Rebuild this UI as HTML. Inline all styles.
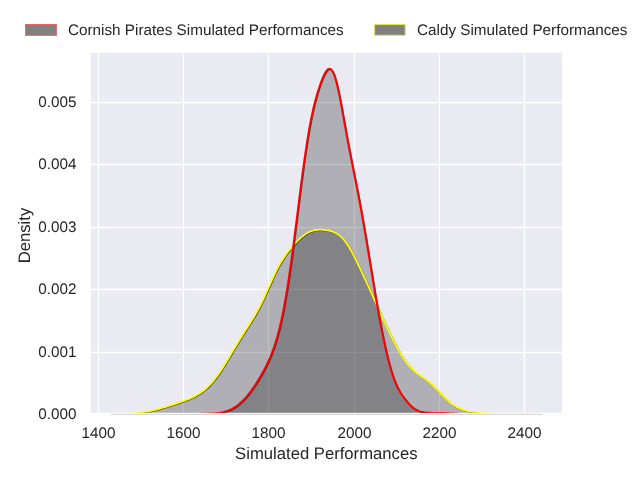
<!DOCTYPE html>
<html lang="en">
<head>
<meta charset="utf-8">
<title>Simulated Performances Density</title>
<style>
html,body{margin:0;padding:0;background:#fff;}
body{width:640px;height:480px;overflow:hidden;}
svg{display:block;}
svg text{font-family:"Liberation Sans",sans-serif;fill:#262626;text-rendering:geometricPrecision;}
.t{font-size:15.28px;}
.l{font-size:16.67px;}
</style>
</head>
<body>
<svg width="640" height="480" viewBox="0 0 640 480">
<rect x="0" y="0" width="640" height="480" fill="#ffffff"/>
<clipPath id="ax"><rect x="90.9" y="52.8" width="471.1" height="360.0"/></clipPath>
<rect x="90.9" y="52.8" width="471.1" height="360.0" fill="#eaeaf2"/>
<g stroke="#ffffff" stroke-width="1.3" clip-path="url(#ax)">
<line x1="98.5" y1="52.8" x2="98.5" y2="412.8"/>
<line x1="183.5" y1="52.8" x2="183.5" y2="412.8"/>
<line x1="268.5" y1="52.8" x2="268.5" y2="412.8"/>
<line x1="354.5" y1="52.8" x2="354.5" y2="412.8"/>
<line x1="439.5" y1="52.8" x2="439.5" y2="412.8"/>
<line x1="524.5" y1="52.8" x2="524.5" y2="412.8"/>
<line x1="90.9" y1="102.5" x2="562.0" y2="102.5"/>
<line x1="90.9" y1="164.5" x2="562.0" y2="164.5"/>
<line x1="90.9" y1="227.5" x2="562.0" y2="227.5"/>
<line x1="90.9" y1="289.5" x2="562.0" y2="289.5"/>
<line x1="90.9" y1="352.5" x2="562.0" y2="352.5"/>
</g>
<g fill="none">
<line x1="111" y1="414.3" x2="542.5" y2="414.3" stroke="#d8d8d8" stroke-width="1.2"/>
<line x1="111" y1="413.3" x2="176" y2="413.3" stroke="#ffffc4" stroke-width="0.7"/>
<line x1="468" y1="413.3" x2="542" y2="413.3" stroke="#ffffc4" stroke-width="0.7"/>
<line x1="189" y1="413.3" x2="460" y2="413.3" stroke="#ffe4e4" stroke-width="0.7"/>
</g>
<g clip-path="url(#ax)">
<path d="M111.0,414.3 L112.0,414.3 L113.0,414.3 L114.0,414.3 L115.0,414.3 L116.0,414.3 L117.0,414.2 L118.0,414.2 L119.0,414.2 L120.0,414.2 L121.0,414.2 L122.0,414.1 L123.0,414.1 L124.0,414.1 L125.0,414.0 L126.0,414.0 L127.0,413.9 L128.0,413.9 L129.0,413.8 L130.0,413.8 L131.0,413.7 L132.0,413.6 L133.0,413.5 L134.0,413.4 L135.0,413.4 L136.0,413.3 L137.0,413.2 L138.0,413.0 L139.0,412.9 L140.0,412.8 L141.0,412.7 L142.0,412.5 L143.0,412.4 L144.0,412.2 L145.0,412.1 L146.0,411.9 L147.0,411.7 L148.0,411.5 L149.0,411.3 L150.0,411.1 L151.0,410.9 L152.0,410.7 L153.0,410.4 L154.0,410.2 L155.0,410.0 L156.0,409.7 L157.0,409.4 L158.0,409.2 L159.0,408.9 L160.0,408.6 L161.0,408.3 L162.0,408.0 L163.0,407.7 L164.0,407.4 L165.0,407.1 L166.0,406.8 L167.0,406.5 L168.0,406.2 L169.0,405.9 L170.0,405.5 L171.0,405.2 L172.0,404.9 L173.0,404.6 L174.0,404.2 L175.0,403.9 L176.0,403.6 L177.0,403.2 L178.0,402.9 L179.0,402.5 L180.0,402.2 L181.0,401.8 L182.0,401.5 L183.0,401.1 L184.0,400.8 L185.0,400.4 L186.0,400.0 L187.0,399.7 L188.0,399.3 L189.0,398.9 L190.0,398.4 L191.0,398.0 L192.0,397.6 L193.0,397.1 L194.0,396.6 L195.0,396.1 L196.0,395.6 L197.0,395.0 L198.0,394.5 L199.0,393.8 L200.0,393.2 L201.0,392.5 L202.0,391.8 L203.0,391.1 L204.0,390.3 L205.0,389.5 L206.0,388.6 L207.0,387.7 L208.0,386.7 L209.0,385.7 L210.0,384.7 L211.0,383.6 L212.0,382.5 L213.0,381.3 L214.0,380.1 L215.0,378.8 L216.0,377.5 L217.0,376.2 L218.0,374.8 L219.0,373.3 L220.0,371.9 L221.0,370.4 L222.0,368.9 L223.0,367.3 L224.0,365.7 L225.0,364.1 L226.0,362.5 L227.0,360.8 L228.0,359.2 L229.0,357.5 L230.0,355.8 L231.0,354.1 L232.0,352.4 L233.0,350.7 L234.0,349.0 L235.0,347.4 L236.0,345.7 L237.0,344.0 L238.0,342.4 L239.0,340.7 L240.0,339.1 L241.0,337.5 L242.0,335.9 L243.0,334.3 L244.0,332.7 L245.0,331.1 L246.0,329.6 L247.0,328.0 L248.0,326.4 L249.0,324.9 L250.0,323.3 L251.0,321.7 L252.0,320.1 L253.0,318.5 L254.0,316.8 L255.0,315.1 L256.0,313.4 L257.0,311.6 L258.0,309.8 L259.0,307.9 L260.0,306.0 L261.0,304.0 L262.0,302.0 L263.0,299.9 L264.0,297.8 L265.0,295.6 L266.0,293.4 L267.0,291.2 L268.0,289.0 L269.0,286.7 L270.0,284.4 L271.0,282.2 L272.0,280.0 L273.0,277.8 L274.0,275.6 L275.0,273.5 L276.0,271.4 L277.0,269.4 L278.0,267.5 L279.0,265.6 L280.0,263.9 L281.0,262.1 L282.0,260.5 L283.0,258.9 L284.0,257.4 L285.0,255.9 L286.0,254.5 L287.0,253.1 L288.0,251.8 L289.0,250.5 L290.0,249.3 L291.0,248.1 L292.0,246.9 L293.0,245.7 L294.0,244.6 L295.0,243.5 L296.0,242.4 L297.0,241.4 L298.0,240.4 L299.0,239.4 L300.0,238.5 L301.0,237.6 L302.0,236.8 L303.0,235.9 L304.0,235.2 L305.0,234.5 L306.0,233.8 L307.0,233.2 L308.0,232.6 L309.0,232.1 L310.0,231.7 L311.0,231.3 L312.0,230.9 L313.0,230.6 L314.0,230.4 L315.0,230.2 L316.0,230.0 L317.0,229.9 L318.0,229.8 L319.0,229.7 L320.0,229.7 L321.0,229.7 L322.0,229.8 L323.0,229.9 L324.0,229.9 L325.0,230.1 L326.0,230.2 L327.0,230.4 L328.0,230.5 L329.0,230.7 L330.0,231.0 L331.0,231.2 L332.0,231.5 L333.0,231.9 L334.0,232.3 L335.0,232.7 L336.0,233.2 L337.0,233.8 L338.0,234.4 L339.0,235.1 L340.0,235.9 L341.0,236.8 L342.0,237.7 L343.0,238.8 L344.0,239.9 L345.0,241.2 L346.0,242.5 L347.0,243.9 L348.0,245.4 L349.0,247.0 L350.0,248.7 L351.0,250.4 L352.0,252.2 L353.0,254.1 L354.0,256.0 L355.0,257.9 L356.0,259.9 L357.0,262.0 L358.0,264.0 L359.0,266.1 L360.0,268.2 L361.0,270.3 L362.0,272.5 L363.0,274.6 L364.0,276.8 L365.0,278.9 L366.0,281.1 L367.0,283.3 L368.0,285.5 L369.0,287.7 L370.0,289.9 L371.0,292.1 L372.0,294.3 L373.0,296.5 L374.0,298.7 L375.0,300.9 L376.0,303.1 L377.0,305.4 L378.0,307.6 L379.0,309.8 L380.0,312.0 L381.0,314.2 L382.0,316.5 L383.0,318.6 L384.0,320.8 L385.0,323.0 L386.0,325.2 L387.0,327.3 L388.0,329.4 L389.0,331.5 L390.0,333.6 L391.0,335.7 L392.0,337.7 L393.0,339.7 L394.0,341.7 L395.0,343.6 L396.0,345.5 L397.0,347.4 L398.0,349.2 L399.0,350.9 L400.0,352.6 L401.0,354.3 L402.0,355.9 L403.0,357.5 L404.0,359.0 L405.0,360.4 L406.0,361.8 L407.0,363.2 L408.0,364.4 L409.0,365.6 L410.0,366.8 L411.0,367.8 L412.0,368.9 L413.0,369.8 L414.0,370.8 L415.0,371.6 L416.0,372.5 L417.0,373.3 L418.0,374.0 L419.0,374.8 L420.0,375.5 L421.0,376.2 L422.0,376.9 L423.0,377.6 L424.0,378.3 L425.0,379.0 L426.0,379.7 L427.0,380.5 L428.0,381.3 L429.0,382.1 L430.0,382.9 L431.0,383.8 L432.0,384.6 L433.0,385.6 L434.0,386.5 L435.0,387.5 L436.0,388.5 L437.0,389.6 L438.0,390.6 L439.0,391.7 L440.0,392.7 L441.0,393.8 L442.0,394.8 L443.0,395.9 L444.0,396.9 L445.0,397.9 L446.0,398.9 L447.0,399.8 L448.0,400.7 L449.0,401.6 L450.0,402.5 L451.0,403.3 L452.0,404.0 L453.0,404.7 L454.0,405.4 L455.0,406.0 L456.0,406.6 L457.0,407.2 L458.0,407.7 L459.0,408.2 L460.0,408.6 L461.0,409.0 L462.0,409.4 L463.0,409.8 L464.0,410.1 L465.0,410.4 L466.0,410.7 L467.0,410.9 L468.0,411.2 L469.0,411.4 L470.0,411.6 L471.0,411.8 L472.0,412.0 L473.0,412.1 L474.0,412.3 L475.0,412.4 L476.0,412.5 L477.0,412.7 L478.0,412.8 L479.0,412.9 L480.0,413.0 L481.0,413.1 L482.0,413.2 L483.0,413.2 L484.0,413.3 L485.0,413.4 L486.0,413.5 L487.0,413.5 L488.0,413.6 L489.0,413.6 L490.0,413.7 L491.0,413.7 L492.0,413.8 L493.0,413.8 L494.0,413.9 L495.0,413.9 L496.0,413.9 L497.0,414.0 L498.0,414.0 L499.0,414.0 L500.0,414.1 L501.0,414.1 L502.0,414.1 L503.0,414.1 L504.0,414.1 L505.0,414.2 L506.0,414.2 L507.0,414.2 L508.0,414.2 L509.0,414.2 L510.0,414.2 L511.0,414.3 L512.0,414.3 L513.0,414.3 L514.0,414.3 L515.0,414.3 L516.0,414.3 L517.0,414.3 L518.0,414.3 L519.0,414.3 L520.0,414.3 L521.0,414.3 L522.0,414.3 L523.0,414.3 L524.0,414.4 L525.0,414.4 L526.0,414.4 L527.0,414.4 L528.0,414.4 L529.0,414.4 L530.0,414.4 L531.0,414.4 L532.0,414.4 L533.0,414.4 L534.0,414.4 L535.0,414.4 L536.0,414.4 L537.0,414.4 L538.0,414.4 L539.0,414.4 L540.0,414.4 L541.0,414.4 L542.0,414.4 L542.0,415 L111.0,415 Z" fill="#000000" fill-opacity="0.25"/>
<path d="M190.0,414.2 L191.0,414.2 L192.0,414.2 L193.0,414.1 L194.0,414.1 L195.0,414.1 L196.0,414.0 L197.0,414.0 L198.0,414.0 L199.0,413.9 L200.0,413.9 L201.0,413.8 L202.0,413.8 L203.0,413.8 L204.0,413.8 L205.0,413.7 L206.0,413.7 L207.0,413.7 L208.0,413.6 L209.0,413.6 L210.0,413.6 L211.0,413.5 L212.0,413.5 L213.0,413.5 L214.0,413.4 L215.0,413.3 L216.0,413.2 L217.0,413.1 L218.0,413.0 L219.0,412.9 L220.0,412.7 L221.0,412.6 L222.0,412.4 L223.0,412.2 L224.0,411.9 L225.0,411.6 L226.0,411.3 L227.0,411.0 L228.0,410.7 L229.0,410.3 L230.0,409.8 L231.0,409.4 L232.0,408.9 L233.0,408.3 L234.0,407.7 L235.0,407.1 L236.0,406.4 L237.0,405.7 L238.0,405.0 L239.0,404.2 L240.0,403.3 L241.0,402.4 L242.0,401.5 L243.0,400.5 L244.0,399.5 L245.0,398.4 L246.0,397.3 L247.0,396.1 L248.0,394.9 L249.0,393.6 L250.0,392.3 L251.0,391.0 L252.0,389.6 L253.0,388.2 L254.0,386.7 L255.0,385.2 L256.0,383.7 L257.0,382.1 L258.0,380.6 L259.0,378.9 L260.0,377.3 L261.0,375.6 L262.0,373.8 L263.0,372.0 L264.0,370.2 L265.0,368.3 L266.0,366.4 L267.0,364.3 L268.0,362.2 L269.0,360.0 L270.0,357.8 L271.0,355.4 L272.0,352.8 L273.0,350.1 L274.0,347.3 L275.0,344.3 L276.0,341.1 L277.0,337.7 L278.0,334.1 L279.0,330.3 L280.0,326.2 L281.0,321.9 L282.0,317.2 L283.0,312.4 L284.0,307.2 L285.0,301.7 L286.0,296.0 L287.0,290.0 L288.0,283.6 L289.0,277.1 L290.0,270.2 L291.0,263.1 L292.0,255.9 L293.0,248.4 L294.0,240.7 L295.0,232.9 L296.0,225.0 L297.0,217.1 L298.0,209.1 L299.0,201.1 L300.0,193.2 L301.0,185.4 L302.0,177.7 L303.0,170.2 L304.0,162.9 L305.0,155.8 L306.0,149.1 L307.0,142.6 L308.0,136.4 L309.0,130.5 L310.0,125.0 L311.0,119.8 L312.0,114.9 L313.0,110.3 L314.0,106.1 L315.0,102.0 L316.0,98.3 L317.0,94.7 L318.0,91.4 L319.0,88.2 L320.0,85.2 L321.0,82.4 L322.0,79.8 L323.0,77.4 L324.0,75.2 L325.0,73.2 L326.0,71.6 L327.0,70.3 L328.0,69.3 L329.0,68.9 L330.0,68.9 L331.0,69.4 L332.0,70.5 L333.0,72.2 L334.0,74.4 L335.0,77.2 L336.0,80.6 L337.0,84.4 L338.0,88.7 L339.0,93.4 L340.0,98.4 L341.0,103.6 L342.0,109.0 L343.0,114.6 L344.0,120.2 L345.0,125.7 L346.0,131.3 L347.0,136.8 L348.0,142.2 L349.0,147.5 L350.0,152.7 L351.0,157.8 L352.0,162.9 L353.0,167.9 L354.0,173.0 L355.0,178.0 L356.0,183.0 L357.0,188.1 L358.0,193.3 L359.0,198.5 L360.0,203.9 L361.0,209.3 L362.0,214.8 L363.0,220.5 L364.0,226.2 L365.0,232.1 L366.0,238.0 L367.0,244.0 L368.0,250.0 L369.0,256.1 L370.0,262.2 L371.0,268.4 L372.0,274.5 L373.0,280.5 L374.0,286.6 L375.0,292.6 L376.0,298.5 L377.0,304.3 L378.0,310.0 L379.0,315.6 L380.0,321.0 L381.0,326.3 L382.0,331.5 L383.0,336.4 L384.0,341.3 L385.0,345.9 L386.0,350.3 L387.0,354.6 L388.0,358.7 L389.0,362.5 L390.0,366.2 L391.0,369.7 L392.0,372.9 L393.0,376.0 L394.0,378.8 L395.0,381.5 L396.0,383.9 L397.0,386.2 L398.0,388.2 L399.0,390.1 L400.0,391.9 L401.0,393.5 L402.0,395.0 L403.0,396.4 L404.0,397.7 L405.0,399.0 L406.0,400.3 L407.0,401.5 L408.0,402.7 L409.0,403.8 L410.0,404.9 L411.0,405.9 L412.0,406.8 L413.0,407.7 L414.0,408.4 L415.0,409.1 L416.0,409.7 L417.0,410.2 L418.0,410.7 L419.0,411.1 L420.0,411.4 L421.0,411.7 L422.0,411.9 L423.0,412.1 L424.0,412.3 L425.0,412.4 L426.0,412.5 L427.0,412.6 L428.0,412.7 L429.0,412.7 L430.0,412.8 L431.0,412.8 L432.0,412.8 L433.0,412.9 L434.0,412.9 L435.0,412.9 L436.0,412.9 L437.0,412.9 L438.0,412.9 L439.0,413.0 L440.0,413.0 L441.0,413.0 L442.0,413.0 L443.0,413.1 L444.0,413.1 L445.0,413.1 L446.0,413.2 L447.0,413.2 L448.0,413.3 L449.0,413.3 L450.0,413.4 L451.0,413.4 L452.0,413.5 L453.0,413.5 L454.0,413.6 L455.0,413.7 L456.0,413.7 L457.0,413.8 L458.0,413.8 L459.0,413.9 L460.0,413.9 L460.0,415 L190.0,415 Z" fill="#000000" fill-opacity="0.25"/>
<g fill="none" stroke-linejoin="round" stroke-linecap="butt">
<path d="M111.0,414.3 L112.0,414.3 L113.0,414.3 L114.0,414.3 L115.0,414.3 L116.0,414.3 L117.0,414.2 L118.0,414.2 L119.0,414.2 L120.0,414.2 L121.0,414.2 L122.0,414.1 L123.0,414.1 L124.0,414.1 L125.0,414.0 L126.0,414.0 L127.0,413.9 L128.0,413.9 L129.0,413.8 L130.0,413.8 L131.0,413.7 L132.0,413.6 L133.0,413.5 L134.0,413.4 L135.0,413.4 L136.0,413.3 L137.0,413.2 L138.0,413.0 L139.0,412.9 L140.0,412.8 L141.0,412.7 L142.0,412.5 L143.0,412.4 L144.0,412.2 L145.0,412.1 L146.0,411.9 L147.0,411.7 L148.0,411.5 L149.0,411.3 L150.0,411.1 L151.0,410.9 L152.0,410.7 L153.0,410.4 L154.0,410.2 L155.0,410.0 L156.0,409.7 L157.0,409.4 L158.0,409.2 L159.0,408.9 L160.0,408.6 L161.0,408.3 L162.0,408.0 L163.0,407.7 L164.0,407.4 L165.0,407.1 L166.0,406.8 L167.0,406.5 L168.0,406.2 L169.0,405.9 L170.0,405.5 L171.0,405.2 L172.0,404.9 L173.0,404.6 L174.0,404.2 L175.0,403.9 L176.0,403.6 L177.0,403.2 L178.0,402.9 L179.0,402.5 L180.0,402.2 L181.0,401.8 L182.0,401.5 L183.0,401.1 L184.0,400.8 L185.0,400.4 L186.0,400.0 L187.0,399.7 L188.0,399.3 L189.0,398.9 L190.0,398.4 L191.0,398.0 L192.0,397.6 L193.0,397.1 L194.0,396.6 L195.0,396.1 L196.0,395.6 L197.0,395.0 L198.0,394.5 L199.0,393.8 L200.0,393.2 L201.0,392.5 L202.0,391.8 L203.0,391.1 L204.0,390.3 L205.0,389.5 L206.0,388.6 L207.0,387.7 L208.0,386.7 L209.0,385.7 L210.0,384.7 L211.0,383.6 L212.0,382.5 L213.0,381.3 L214.0,380.1 L215.0,378.8 L216.0,377.5 L217.0,376.2 L218.0,374.8 L219.0,373.3 L220.0,371.9 L221.0,370.4 L222.0,368.9 L223.0,367.3 L224.0,365.7 L225.0,364.1 L226.0,362.5 L227.0,360.8 L228.0,359.2 L229.0,357.5 L230.0,355.8 L231.0,354.1 L232.0,352.4 L233.0,350.7 L234.0,349.0 L235.0,347.4 L236.0,345.7 L237.0,344.0 L238.0,342.4 L239.0,340.7 L240.0,339.1 L241.0,337.5 L242.0,335.9 L243.0,334.3 L244.0,332.7 L245.0,331.1 L246.0,329.6 L247.0,328.0 L248.0,326.4 L249.0,324.9 L250.0,323.3 L251.0,321.7 L252.0,320.1 L253.0,318.5 L254.0,316.8 L255.0,315.1 L256.0,313.4 L257.0,311.6 L258.0,309.8 L259.0,307.9 L260.0,306.0 L261.0,304.0 L262.0,302.0 L263.0,299.9 L264.0,297.8 L265.0,295.6 L266.0,293.4 L267.0,291.2 L268.0,289.0 L269.0,286.7 L270.0,284.4 L271.0,282.2 L272.0,280.0 L273.0,277.8 L274.0,275.6 L275.0,273.5 L276.0,271.4 L277.0,269.4 L278.0,267.5 L279.0,265.6 L280.0,263.9 L281.0,262.1 L282.0,260.5 L283.0,258.9 L284.0,257.4 L285.0,255.9 L286.0,254.5 L287.0,253.1 L288.0,251.8 L289.0,250.5 L290.0,249.3 L291.0,248.1 L292.0,246.9 L293.0,245.7 L294.0,244.6 L295.0,243.5 L296.0,242.4 L297.0,241.4 L298.0,240.4 L299.0,239.4 L300.0,238.5 L301.0,237.6 L302.0,236.8 L303.0,235.9 L304.0,235.2 L305.0,234.5 L306.0,233.8 L307.0,233.2 L308.0,232.6 L309.0,232.1 L310.0,231.7 L311.0,231.3 L312.0,230.9 L313.0,230.6 L314.0,230.4 L315.0,230.2 L316.0,230.0 L317.0,229.9 L318.0,229.8 L319.0,229.7 L320.0,229.7 L321.0,229.7 L322.0,229.8 L323.0,229.9 L324.0,229.9 L325.0,230.1 L326.0,230.2 L327.0,230.4 L328.0,230.5 L329.0,230.7 L330.0,231.0 L331.0,231.2 L332.0,231.5 L333.0,231.9 L334.0,232.3 L335.0,232.7 L336.0,233.2 L337.0,233.8 L338.0,234.4 L339.0,235.1 L340.0,235.9 L341.0,236.8 L342.0,237.7 L343.0,238.8 L344.0,239.9 L345.0,241.2 L346.0,242.5 L347.0,243.9 L348.0,245.4 L349.0,247.0 L350.0,248.7 L351.0,250.4 L352.0,252.2 L353.0,254.1 L354.0,256.0 L355.0,257.9 L356.0,259.9 L357.0,262.0 L358.0,264.0 L359.0,266.1 L360.0,268.2 L361.0,270.3 L362.0,272.5 L363.0,274.6 L364.0,276.8 L365.0,278.9 L366.0,281.1 L367.0,283.3 L368.0,285.5 L369.0,287.7 L370.0,289.9 L371.0,292.1 L372.0,294.3 L373.0,296.5 L374.0,298.7 L375.0,300.9 L376.0,303.1 L377.0,305.4 L378.0,307.6 L379.0,309.8 L380.0,312.0 L381.0,314.2 L382.0,316.5 L383.0,318.6 L384.0,320.8 L385.0,323.0 L386.0,325.2 L387.0,327.3 L388.0,329.4 L389.0,331.5 L390.0,333.6 L391.0,335.7 L392.0,337.7 L393.0,339.7 L394.0,341.7 L395.0,343.6 L396.0,345.5 L397.0,347.4 L398.0,349.2 L399.0,350.9 L400.0,352.6 L401.0,354.3 L402.0,355.9 L403.0,357.5 L404.0,359.0 L405.0,360.4 L406.0,361.8 L407.0,363.2 L408.0,364.4 L409.0,365.6 L410.0,366.8 L411.0,367.8 L412.0,368.9 L413.0,369.8 L414.0,370.8 L415.0,371.6 L416.0,372.5 L417.0,373.3 L418.0,374.0 L419.0,374.8 L420.0,375.5 L421.0,376.2 L422.0,376.9 L423.0,377.6 L424.0,378.3 L425.0,379.0 L426.0,379.7 L427.0,380.5 L428.0,381.3 L429.0,382.1 L430.0,382.9 L431.0,383.8 L432.0,384.6 L433.0,385.6 L434.0,386.5 L435.0,387.5 L436.0,388.5 L437.0,389.6 L438.0,390.6 L439.0,391.7 L440.0,392.7 L441.0,393.8 L442.0,394.8 L443.0,395.9 L444.0,396.9 L445.0,397.9 L446.0,398.9 L447.0,399.8 L448.0,400.7 L449.0,401.6 L450.0,402.5 L451.0,403.3 L452.0,404.0 L453.0,404.7 L454.0,405.4 L455.0,406.0 L456.0,406.6 L457.0,407.2 L458.0,407.7 L459.0,408.2 L460.0,408.6 L461.0,409.0 L462.0,409.4 L463.0,409.8 L464.0,410.1 L465.0,410.4 L466.0,410.7 L467.0,410.9 L468.0,411.2 L469.0,411.4 L470.0,411.6 L471.0,411.8 L472.0,412.0 L473.0,412.1 L474.0,412.3 L475.0,412.4 L476.0,412.5 L477.0,412.7 L478.0,412.8 L479.0,412.9 L480.0,413.0 L481.0,413.1 L482.0,413.2 L483.0,413.2 L484.0,413.3 L485.0,413.4 L486.0,413.5 L487.0,413.5 L488.0,413.6 L489.0,413.6 L490.0,413.7 L491.0,413.7 L492.0,413.8 L493.0,413.8 L494.0,413.9 L495.0,413.9 L496.0,413.9 L497.0,414.0 L498.0,414.0 L499.0,414.0 L500.0,414.1 L501.0,414.1 L502.0,414.1 L503.0,414.1 L504.0,414.1 L505.0,414.2 L506.0,414.2 L507.0,414.2 L508.0,414.2 L509.0,414.2 L510.0,414.2 L511.0,414.3 L512.0,414.3 L513.0,414.3 L514.0,414.3 L515.0,414.3 L516.0,414.3 L517.0,414.3 L518.0,414.3 L519.0,414.3 L520.0,414.3 L521.0,414.3 L522.0,414.3 L523.0,414.3 L524.0,414.4 L525.0,414.4 L526.0,414.4 L527.0,414.4 L528.0,414.4 L529.0,414.4 L530.0,414.4 L531.0,414.4 L532.0,414.4 L533.0,414.4 L534.0,414.4 L535.0,414.4 L536.0,414.4 L537.0,414.4 L538.0,414.4 L539.0,414.4 L540.0,414.4 L541.0,414.4 L542.0,414.4" stroke="#000000" stroke-opacity="0.6" stroke-width="1.4" transform="translate(0.7,0.7)"/>
<path d="M111.0,414.3 L112.0,414.3 L113.0,414.3 L114.0,414.3 L115.0,414.3 L116.0,414.3 L117.0,414.2 L118.0,414.2 L119.0,414.2 L120.0,414.2 L121.0,414.2 L122.0,414.1 L123.0,414.1 L124.0,414.1 L125.0,414.0 L126.0,414.0 L127.0,413.9 L128.0,413.9 L129.0,413.8 L130.0,413.8 L131.0,413.7 L132.0,413.6 L133.0,413.5 L134.0,413.4 L135.0,413.4 L136.0,413.3 L137.0,413.2 L138.0,413.0 L139.0,412.9 L140.0,412.8 L141.0,412.7 L142.0,412.5 L143.0,412.4 L144.0,412.2 L145.0,412.1 L146.0,411.9 L147.0,411.7 L148.0,411.5 L149.0,411.3 L150.0,411.1 L151.0,410.9 L152.0,410.7 L153.0,410.4 L154.0,410.2 L155.0,410.0 L156.0,409.7 L157.0,409.4 L158.0,409.2 L159.0,408.9 L160.0,408.6 L161.0,408.3 L162.0,408.0 L163.0,407.7 L164.0,407.4 L165.0,407.1 L166.0,406.8 L167.0,406.5 L168.0,406.2 L169.0,405.9 L170.0,405.5 L171.0,405.2 L172.0,404.9 L173.0,404.6 L174.0,404.2 L175.0,403.9 L176.0,403.6 L177.0,403.2 L178.0,402.9 L179.0,402.5 L180.0,402.2 L181.0,401.8 L182.0,401.5 L183.0,401.1 L184.0,400.8 L185.0,400.4 L186.0,400.0 L187.0,399.7 L188.0,399.3 L189.0,398.9 L190.0,398.4 L191.0,398.0 L192.0,397.6 L193.0,397.1 L194.0,396.6 L195.0,396.1 L196.0,395.6 L197.0,395.0 L198.0,394.5 L199.0,393.8 L200.0,393.2 L201.0,392.5 L202.0,391.8 L203.0,391.1 L204.0,390.3 L205.0,389.5 L206.0,388.6 L207.0,387.7 L208.0,386.7 L209.0,385.7 L210.0,384.7 L211.0,383.6 L212.0,382.5 L213.0,381.3 L214.0,380.1 L215.0,378.8 L216.0,377.5 L217.0,376.2 L218.0,374.8 L219.0,373.3 L220.0,371.9 L221.0,370.4 L222.0,368.9 L223.0,367.3 L224.0,365.7 L225.0,364.1 L226.0,362.5 L227.0,360.8 L228.0,359.2 L229.0,357.5 L230.0,355.8 L231.0,354.1 L232.0,352.4 L233.0,350.7 L234.0,349.0 L235.0,347.4 L236.0,345.7 L237.0,344.0 L238.0,342.4 L239.0,340.7 L240.0,339.1 L241.0,337.5 L242.0,335.9 L243.0,334.3 L244.0,332.7 L245.0,331.1 L246.0,329.6 L247.0,328.0 L248.0,326.4 L249.0,324.9 L250.0,323.3 L251.0,321.7 L252.0,320.1 L253.0,318.5 L254.0,316.8 L255.0,315.1 L256.0,313.4 L257.0,311.6 L258.0,309.8 L259.0,307.9 L260.0,306.0 L261.0,304.0 L262.0,302.0 L263.0,299.9 L264.0,297.8 L265.0,295.6 L266.0,293.4 L267.0,291.2 L268.0,289.0 L269.0,286.7 L270.0,284.4 L271.0,282.2 L272.0,280.0 L273.0,277.8 L274.0,275.6 L275.0,273.5 L276.0,271.4 L277.0,269.4 L278.0,267.5 L279.0,265.6 L280.0,263.9 L281.0,262.1 L282.0,260.5 L283.0,258.9 L284.0,257.4 L285.0,255.9 L286.0,254.5 L287.0,253.1 L288.0,251.8 L289.0,250.5 L290.0,249.3 L291.0,248.1 L292.0,246.9 L293.0,245.7 L294.0,244.6 L295.0,243.5 L296.0,242.4 L297.0,241.4 L298.0,240.4 L299.0,239.4 L300.0,238.5 L301.0,237.6 L302.0,236.8 L303.0,235.9 L304.0,235.2 L305.0,234.5 L306.0,233.8 L307.0,233.2 L308.0,232.6 L309.0,232.1 L310.0,231.7 L311.0,231.3 L312.0,230.9 L313.0,230.6 L314.0,230.4 L315.0,230.2 L316.0,230.0 L317.0,229.9 L318.0,229.8 L319.0,229.7 L320.0,229.7 L321.0,229.7 L322.0,229.8 L323.0,229.9 L324.0,229.9 L325.0,230.1 L326.0,230.2 L327.0,230.4 L328.0,230.5 L329.0,230.7 L330.0,231.0 L331.0,231.2 L332.0,231.5 L333.0,231.9 L334.0,232.3 L335.0,232.7 L336.0,233.2 L337.0,233.8 L338.0,234.4 L339.0,235.1 L340.0,235.9 L341.0,236.8 L342.0,237.7 L343.0,238.8 L344.0,239.9 L345.0,241.2 L346.0,242.5 L347.0,243.9 L348.0,245.4 L349.0,247.0 L350.0,248.7 L351.0,250.4 L352.0,252.2 L353.0,254.1 L354.0,256.0 L355.0,257.9 L356.0,259.9 L357.0,262.0 L358.0,264.0 L359.0,266.1 L360.0,268.2 L361.0,270.3 L362.0,272.5 L363.0,274.6 L364.0,276.8 L365.0,278.9 L366.0,281.1 L367.0,283.3 L368.0,285.5 L369.0,287.7 L370.0,289.9 L371.0,292.1 L372.0,294.3 L373.0,296.5 L374.0,298.7 L375.0,300.9 L376.0,303.1 L377.0,305.4 L378.0,307.6 L379.0,309.8 L380.0,312.0 L381.0,314.2 L382.0,316.5 L383.0,318.6 L384.0,320.8 L385.0,323.0 L386.0,325.2 L387.0,327.3 L388.0,329.4 L389.0,331.5 L390.0,333.6 L391.0,335.7 L392.0,337.7 L393.0,339.7 L394.0,341.7 L395.0,343.6 L396.0,345.5 L397.0,347.4 L398.0,349.2 L399.0,350.9 L400.0,352.6 L401.0,354.3 L402.0,355.9 L403.0,357.5 L404.0,359.0 L405.0,360.4 L406.0,361.8 L407.0,363.2 L408.0,364.4 L409.0,365.6 L410.0,366.8 L411.0,367.8 L412.0,368.9 L413.0,369.8 L414.0,370.8 L415.0,371.6 L416.0,372.5 L417.0,373.3 L418.0,374.0 L419.0,374.8 L420.0,375.5 L421.0,376.2 L422.0,376.9 L423.0,377.6 L424.0,378.3 L425.0,379.0 L426.0,379.7 L427.0,380.5 L428.0,381.3 L429.0,382.1 L430.0,382.9 L431.0,383.8 L432.0,384.6 L433.0,385.6 L434.0,386.5 L435.0,387.5 L436.0,388.5 L437.0,389.6 L438.0,390.6 L439.0,391.7 L440.0,392.7 L441.0,393.8 L442.0,394.8 L443.0,395.9 L444.0,396.9 L445.0,397.9 L446.0,398.9 L447.0,399.8 L448.0,400.7 L449.0,401.6 L450.0,402.5 L451.0,403.3 L452.0,404.0 L453.0,404.7 L454.0,405.4 L455.0,406.0 L456.0,406.6 L457.0,407.2 L458.0,407.7 L459.0,408.2 L460.0,408.6 L461.0,409.0 L462.0,409.4 L463.0,409.8 L464.0,410.1 L465.0,410.4 L466.0,410.7 L467.0,410.9 L468.0,411.2 L469.0,411.4 L470.0,411.6 L471.0,411.8 L472.0,412.0 L473.0,412.1 L474.0,412.3 L475.0,412.4 L476.0,412.5 L477.0,412.7 L478.0,412.8 L479.0,412.9 L480.0,413.0 L481.0,413.1 L482.0,413.2 L483.0,413.2 L484.0,413.3 L485.0,413.4 L486.0,413.5 L487.0,413.5 L488.0,413.6 L489.0,413.6 L490.0,413.7 L491.0,413.7 L492.0,413.8 L493.0,413.8 L494.0,413.9 L495.0,413.9 L496.0,413.9 L497.0,414.0 L498.0,414.0 L499.0,414.0 L500.0,414.1 L501.0,414.1 L502.0,414.1 L503.0,414.1 L504.0,414.1 L505.0,414.2 L506.0,414.2 L507.0,414.2 L508.0,414.2 L509.0,414.2 L510.0,414.2 L511.0,414.3 L512.0,414.3 L513.0,414.3 L514.0,414.3 L515.0,414.3 L516.0,414.3 L517.0,414.3 L518.0,414.3 L519.0,414.3 L520.0,414.3 L521.0,414.3 L522.0,414.3 L523.0,414.3 L524.0,414.4 L525.0,414.4 L526.0,414.4 L527.0,414.4 L528.0,414.4 L529.0,414.4 L530.0,414.4 L531.0,414.4 L532.0,414.4 L533.0,414.4 L534.0,414.4 L535.0,414.4 L536.0,414.4 L537.0,414.4 L538.0,414.4 L539.0,414.4 L540.0,414.4 L541.0,414.4 L542.0,414.4" stroke="#ffff00" stroke-width="1.8"/>
<path d="M190.0,414.2 L191.0,414.2 L192.0,414.2 L193.0,414.1 L194.0,414.1 L195.0,414.1 L196.0,414.0 L197.0,414.0 L198.0,414.0 L199.0,413.9 L200.0,413.9 L201.0,413.8 L202.0,413.8 L203.0,413.8 L204.0,413.8 L205.0,413.7 L206.0,413.7 L207.0,413.7 L208.0,413.6 L209.0,413.6 L210.0,413.6 L211.0,413.5 L212.0,413.5 L213.0,413.5 L214.0,413.4 L215.0,413.3 L216.0,413.2 L217.0,413.1 L218.0,413.0 L219.0,412.9 L220.0,412.7 L221.0,412.6 L222.0,412.4 L223.0,412.2 L224.0,411.9 L225.0,411.6 L226.0,411.3 L227.0,411.0 L228.0,410.7 L229.0,410.3 L230.0,409.8 L231.0,409.4 L232.0,408.9 L233.0,408.3 L234.0,407.7 L235.0,407.1 L236.0,406.4 L237.0,405.7 L238.0,405.0 L239.0,404.2 L240.0,403.3 L241.0,402.4 L242.0,401.5 L243.0,400.5 L244.0,399.5 L245.0,398.4 L246.0,397.3 L247.0,396.1 L248.0,394.9 L249.0,393.6 L250.0,392.3 L251.0,391.0 L252.0,389.6 L253.0,388.2 L254.0,386.7 L255.0,385.2 L256.0,383.7 L257.0,382.1 L258.0,380.6 L259.0,378.9 L260.0,377.3 L261.0,375.6 L262.0,373.8 L263.0,372.0 L264.0,370.2 L265.0,368.3 L266.0,366.4 L267.0,364.3 L268.0,362.2 L269.0,360.0 L270.0,357.8 L271.0,355.4 L272.0,352.8 L273.0,350.1 L274.0,347.3 L275.0,344.3 L276.0,341.1 L277.0,337.7 L278.0,334.1 L279.0,330.3 L280.0,326.2 L281.0,321.9 L282.0,317.2 L283.0,312.4 L284.0,307.2 L285.0,301.7 L286.0,296.0 L287.0,290.0 L288.0,283.6 L289.0,277.1 L290.0,270.2 L291.0,263.1 L292.0,255.9 L293.0,248.4 L294.0,240.7 L295.0,232.9 L296.0,225.0 L297.0,217.1 L298.0,209.1 L299.0,201.1 L300.0,193.2 L301.0,185.4 L302.0,177.7 L303.0,170.2 L304.0,162.9 L305.0,155.8 L306.0,149.1 L307.0,142.6 L308.0,136.4 L309.0,130.5 L310.0,125.0 L311.0,119.8 L312.0,114.9 L313.0,110.3 L314.0,106.1 L315.0,102.0 L316.0,98.3 L317.0,94.7 L318.0,91.4 L319.0,88.2 L320.0,85.2 L321.0,82.4 L322.0,79.8 L323.0,77.4 L324.0,75.2 L325.0,73.2 L326.0,71.6 L327.0,70.3 L328.0,69.3 L329.0,68.9 L330.0,68.9 L331.0,69.4 L332.0,70.5 L333.0,72.2 L334.0,74.4 L335.0,77.2 L336.0,80.6 L337.0,84.4 L338.0,88.7 L339.0,93.4 L340.0,98.4 L341.0,103.6 L342.0,109.0 L343.0,114.6 L344.0,120.2 L345.0,125.7 L346.0,131.3 L347.0,136.8 L348.0,142.2 L349.0,147.5 L350.0,152.7 L351.0,157.8 L352.0,162.9 L353.0,167.9 L354.0,173.0 L355.0,178.0 L356.0,183.0 L357.0,188.1 L358.0,193.3 L359.0,198.5 L360.0,203.9 L361.0,209.3 L362.0,214.8 L363.0,220.5 L364.0,226.2 L365.0,232.1 L366.0,238.0 L367.0,244.0 L368.0,250.0 L369.0,256.1 L370.0,262.2 L371.0,268.4 L372.0,274.5 L373.0,280.5 L374.0,286.6 L375.0,292.6 L376.0,298.5 L377.0,304.3 L378.0,310.0 L379.0,315.6 L380.0,321.0 L381.0,326.3 L382.0,331.5 L383.0,336.4 L384.0,341.3 L385.0,345.9 L386.0,350.3 L387.0,354.6 L388.0,358.7 L389.0,362.5 L390.0,366.2 L391.0,369.7 L392.0,372.9 L393.0,376.0 L394.0,378.8 L395.0,381.5 L396.0,383.9 L397.0,386.2 L398.0,388.2 L399.0,390.1 L400.0,391.9 L401.0,393.5 L402.0,395.0 L403.0,396.4 L404.0,397.7 L405.0,399.0 L406.0,400.3 L407.0,401.5 L408.0,402.7 L409.0,403.8 L410.0,404.9 L411.0,405.9 L412.0,406.8 L413.0,407.7 L414.0,408.4 L415.0,409.1 L416.0,409.7 L417.0,410.2 L418.0,410.7 L419.0,411.1 L420.0,411.4 L421.0,411.7 L422.0,411.9 L423.0,412.1 L424.0,412.3 L425.0,412.4 L426.0,412.5 L427.0,412.6 L428.0,412.7 L429.0,412.7 L430.0,412.8 L431.0,412.8 L432.0,412.8 L433.0,412.9 L434.0,412.9 L435.0,412.9 L436.0,412.9 L437.0,412.9 L438.0,412.9 L439.0,413.0 L440.0,413.0 L441.0,413.0 L442.0,413.0 L443.0,413.1 L444.0,413.1 L445.0,413.1 L446.0,413.2 L447.0,413.2 L448.0,413.3 L449.0,413.3 L450.0,413.4 L451.0,413.4 L452.0,413.5 L453.0,413.5 L454.0,413.6 L455.0,413.7 L456.0,413.7 L457.0,413.8 L458.0,413.8 L459.0,413.9 L460.0,413.9" stroke="#000000" stroke-opacity="0.6" stroke-width="1.4" transform="translate(0.7,0.7)"/>
<path d="M190.0,414.2 L191.0,414.2 L192.0,414.2 L193.0,414.1 L194.0,414.1 L195.0,414.1 L196.0,414.0 L197.0,414.0 L198.0,414.0 L199.0,413.9 L200.0,413.9 L201.0,413.8 L202.0,413.8 L203.0,413.8 L204.0,413.8 L205.0,413.7 L206.0,413.7 L207.0,413.7 L208.0,413.6 L209.0,413.6 L210.0,413.6 L211.0,413.5 L212.0,413.5 L213.0,413.5 L214.0,413.4 L215.0,413.3 L216.0,413.2 L217.0,413.1 L218.0,413.0 L219.0,412.9 L220.0,412.7 L221.0,412.6 L222.0,412.4 L223.0,412.2 L224.0,411.9 L225.0,411.6 L226.0,411.3 L227.0,411.0 L228.0,410.7 L229.0,410.3 L230.0,409.8 L231.0,409.4 L232.0,408.9 L233.0,408.3 L234.0,407.7 L235.0,407.1 L236.0,406.4 L237.0,405.7 L238.0,405.0 L239.0,404.2 L240.0,403.3 L241.0,402.4 L242.0,401.5 L243.0,400.5 L244.0,399.5 L245.0,398.4 L246.0,397.3 L247.0,396.1 L248.0,394.9 L249.0,393.6 L250.0,392.3 L251.0,391.0 L252.0,389.6 L253.0,388.2 L254.0,386.7 L255.0,385.2 L256.0,383.7 L257.0,382.1 L258.0,380.6 L259.0,378.9 L260.0,377.3 L261.0,375.6 L262.0,373.8 L263.0,372.0 L264.0,370.2 L265.0,368.3 L266.0,366.4 L267.0,364.3 L268.0,362.2 L269.0,360.0 L270.0,357.8 L271.0,355.4 L272.0,352.8 L273.0,350.1 L274.0,347.3 L275.0,344.3 L276.0,341.1 L277.0,337.7 L278.0,334.1 L279.0,330.3 L280.0,326.2 L281.0,321.9 L282.0,317.2 L283.0,312.4 L284.0,307.2 L285.0,301.7 L286.0,296.0 L287.0,290.0 L288.0,283.6 L289.0,277.1 L290.0,270.2 L291.0,263.1 L292.0,255.9 L293.0,248.4 L294.0,240.7 L295.0,232.9 L296.0,225.0 L297.0,217.1 L298.0,209.1 L299.0,201.1 L300.0,193.2 L301.0,185.4 L302.0,177.7 L303.0,170.2 L304.0,162.9 L305.0,155.8 L306.0,149.1 L307.0,142.6 L308.0,136.4 L309.0,130.5 L310.0,125.0 L311.0,119.8 L312.0,114.9 L313.0,110.3 L314.0,106.1 L315.0,102.0 L316.0,98.3 L317.0,94.7 L318.0,91.4 L319.0,88.2 L320.0,85.2 L321.0,82.4 L322.0,79.8 L323.0,77.4 L324.0,75.2 L325.0,73.2 L326.0,71.6 L327.0,70.3 L328.0,69.3 L329.0,68.9 L330.0,68.9 L331.0,69.4 L332.0,70.5 L333.0,72.2 L334.0,74.4 L335.0,77.2 L336.0,80.6 L337.0,84.4 L338.0,88.7 L339.0,93.4 L340.0,98.4 L341.0,103.6 L342.0,109.0 L343.0,114.6 L344.0,120.2 L345.0,125.7 L346.0,131.3 L347.0,136.8 L348.0,142.2 L349.0,147.5 L350.0,152.7 L351.0,157.8 L352.0,162.9 L353.0,167.9 L354.0,173.0 L355.0,178.0 L356.0,183.0 L357.0,188.1 L358.0,193.3 L359.0,198.5 L360.0,203.9 L361.0,209.3 L362.0,214.8 L363.0,220.5 L364.0,226.2 L365.0,232.1 L366.0,238.0 L367.0,244.0 L368.0,250.0 L369.0,256.1 L370.0,262.2 L371.0,268.4 L372.0,274.5 L373.0,280.5 L374.0,286.6 L375.0,292.6 L376.0,298.5 L377.0,304.3 L378.0,310.0 L379.0,315.6 L380.0,321.0 L381.0,326.3 L382.0,331.5 L383.0,336.4 L384.0,341.3 L385.0,345.9 L386.0,350.3 L387.0,354.6 L388.0,358.7 L389.0,362.5 L390.0,366.2 L391.0,369.7 L392.0,372.9 L393.0,376.0 L394.0,378.8 L395.0,381.5 L396.0,383.9 L397.0,386.2 L398.0,388.2 L399.0,390.1 L400.0,391.9 L401.0,393.5 L402.0,395.0 L403.0,396.4 L404.0,397.7 L405.0,399.0 L406.0,400.3 L407.0,401.5 L408.0,402.7 L409.0,403.8 L410.0,404.9 L411.0,405.9 L412.0,406.8 L413.0,407.7 L414.0,408.4 L415.0,409.1 L416.0,409.7 L417.0,410.2 L418.0,410.7 L419.0,411.1 L420.0,411.4 L421.0,411.7 L422.0,411.9 L423.0,412.1 L424.0,412.3 L425.0,412.4 L426.0,412.5 L427.0,412.6 L428.0,412.7 L429.0,412.7 L430.0,412.8 L431.0,412.8 L432.0,412.8 L433.0,412.9 L434.0,412.9 L435.0,412.9 L436.0,412.9 L437.0,412.9 L438.0,412.9 L439.0,413.0 L440.0,413.0 L441.0,413.0 L442.0,413.0 L443.0,413.1 L444.0,413.1 L445.0,413.1 L446.0,413.2 L447.0,413.2 L448.0,413.3 L449.0,413.3 L450.0,413.4 L451.0,413.4 L452.0,413.5 L453.0,413.5 L454.0,413.6 L455.0,413.7 L456.0,413.7 L457.0,413.8 L458.0,413.8 L459.0,413.9 L460.0,413.9" stroke="#ff0000" stroke-width="2.0"/>
</g></g>
<text class="t" x="98.5" y="438.1" text-anchor="middle">1400</text>
<text class="t" x="183.5" y="438.1" text-anchor="middle">1600</text>
<text class="t" x="268.5" y="438.1" text-anchor="middle">1800</text>
<text class="t" x="354.5" y="438.1" text-anchor="middle">2000</text>
<text class="t" x="439.5" y="438.1" text-anchor="middle">2200</text>
<text class="t" x="524.5" y="438.1" text-anchor="middle">2400</text>
<text class="t" x="76.4" y="106.9" text-anchor="end">0.005</text>
<text class="t" x="76.4" y="169.4" text-anchor="end">0.004</text>
<text class="t" x="76.4" y="231.9" text-anchor="end">0.003</text>
<text class="t" x="76.4" y="294.4" text-anchor="end">0.002</text>
<text class="t" x="76.4" y="356.9" text-anchor="end">0.001</text>
<text class="t" x="76.4" y="419.4" text-anchor="end">0.000</text>
<text class="l" x="326.3" y="459.1" text-anchor="middle">Simulated Performances</text>
<text class="l" transform="translate(30,235.5) rotate(-90)" text-anchor="middle">Density</text>
<rect x="25.7" y="24.6" width="30.6" height="10.7" fill="#808080" stroke="#e85a5a" stroke-width="1"/>
<text class="t" x="68.0" y="34.6">Cornish Pirates Simulated Performances</text>
<rect x="374.6" y="24.6" width="30.6" height="10.7" fill="#808080" stroke="#e6e650" stroke-width="1"/>
<text class="t" x="417.0" y="34.6">Caldy Simulated Performances</text>
</svg>
</body>
</html>
